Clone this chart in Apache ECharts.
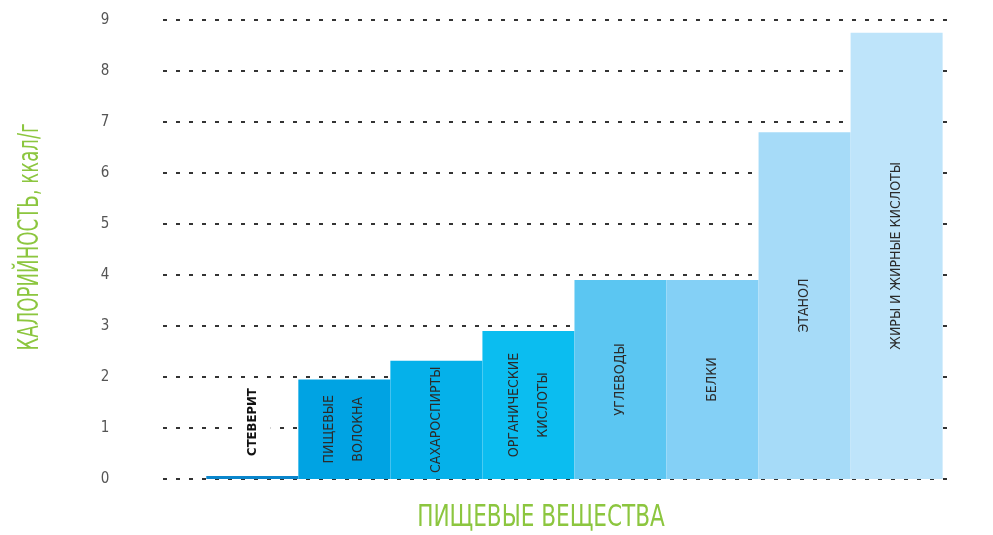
<!DOCTYPE html>
<html lang="ru">
<head>
    <meta charset="UTF-8">
    <title>Калорийность пищевых веществ</title>
    <script src="https://cdn.jsdelivr.net/npm/echarts@6/dist/echarts.min.js"></script>
    <style>
        html, body { margin: 0; padding: 0; background: #fff; }
    </style>
</head>
<body>
    <div id="chart" style="width: 993px; height: 535px;"></div>

    <script>
        var categories = ['СТЕВЕРИТ', 'ПИЩЕВЫЕ\nВОЛОКНА', 'САХАРОСПИРТЫ', 'ОРГАНИЧЕСКИЕ\nКИСЛОТЫ',
                          'УГЛЕВОДЫ', 'БЕЛКИ', 'ЭТАНОЛ', 'ЖИРЫ И ЖИРНЫЕ КИСЛОТЫ'];
        var values = [0.06, 1.95, 2.32, 2.9, 3.9, 3.9, 6.8, 8.75];
        var colors = ['#0a86cc', '#00a3e3', '#05b1ea', '#0bbdf0', '#5bc6f2', '#84d0f6', '#a6dbf8', '#bee4fa'];
        var yTicks = [0, 1, 2, 3, 4, 5, 6, 7, 8, 9];

        var font = '"Liberation Sans Narrow", "DejaVu Sans Condensed", sans-serif';
        var chart = echarts.init(document.getElementById('chart'));

        var barData = categories.map(function (name, i) {
            var item = {
                value: [i, values[i]],
                name: name,
                itemStyle: { color: colors[i] }
            };
            if (i === 0) {
                // стеверит: подпись над почти нулевым столбиком, на белой подложке
                item.label = {
                    position: 'top',
                    distance: 17,
                    align: 'left',
                    verticalAlign: 'middle',
                    fontWeight: 'bold',
                    fontSize: 13,
                    color: '#111',
                    backgroundColor: '#fff',
                    padding: [4, 3]
                };
            }
            return item;
        });

        chart.setOption({
            animation: false,
            grid: { left: 163, right: 43, top: 20, bottom: 56 },
            xAxis: {
                type: 'value',
                min: -0.97,
                max: 7.58,
                axisLine: { show: false },
                axisTick: { show: false },
                axisLabel: { show: false },
                splitLine: { show: false }
            },
            yAxis: {
                type: 'value',
                min: yTicks[0],
                max: yTicks[yTicks.length - 1],
                interval: 1,
                axisLine: { show: false },
                axisTick: { show: false },
                axisLabel: {
                    margin: 58,
                    align: 'center',
                    color: '#555',
                    fontSize: 15,
                    fontFamily: font
                },
                splitLine: {
                    lineStyle: { color: '#333', width: 2, type: [4, 9] }
                }
            },
            graphic: [
                {
                    type: 'text',
                    x: 31,
                    y: 237,
                    rotation: Math.PI / 2,
                    scaleX: 0.72,
                    style: {
                        text: 'КАЛОРИЙНОСТЬ, ккал/г',
                        fill: '#8cc63f',
                        font: '28px ' + font,
                        align: 'center',
                        verticalAlign: 'middle'
                    }
                },
                {
                    type: 'text',
                    x: 541,
                    y: 518,
                    scaleX: 0.8,
                    style: {
                        text: 'ПИЩЕВЫЕ ВЕЩЕСТВА',
                        fill: '#8cc63f',
                        font: '30px ' + font,
                        align: 'center',
                        verticalAlign: 'middle'
                    }
                }
            ],
            series: [{
                type: 'bar',
                barWidth: 92,
                data: barData,
                label: {
                    show: true,
                    position: 'inside',
                    rotate: 90,
                    formatter: '{b}',
                    color: '#2b2b2b',
                    fontSize: 14,
                    lineHeight: 29,
                    fontFamily: font
                }
            }]
        });
    </script>
</body>
</html>
